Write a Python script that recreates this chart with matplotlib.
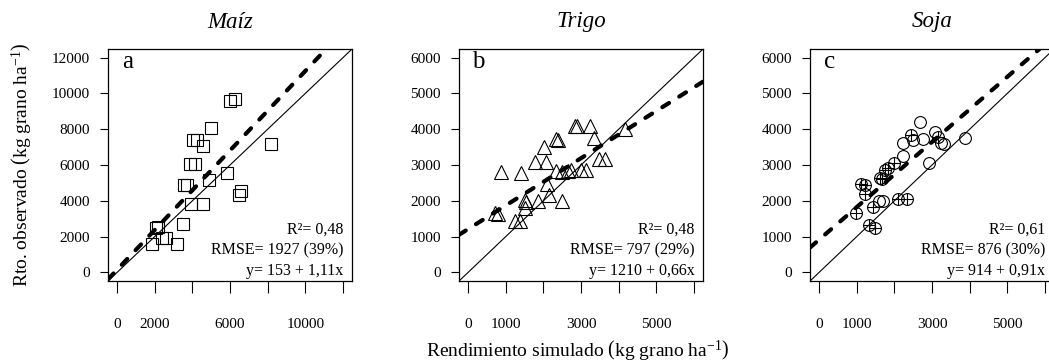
import numpy as np
import matplotlib
matplotlib.use("Agg")
import matplotlib.pyplot as plt

plt.rcParams['font.family'] = ['Liberation Serif', 'DejaVu Serif']
plt.rcParams['mathtext.fontset'] = 'custom'
plt.rcParams['mathtext.rm'] = 'Liberation Serif'
plt.rcParams['mathtext.it'] = 'Liberation Serif:italic'

# maiz (squares)
maiz_sim = [6016, 6280, 4997, 4047, 4258, 4538, 8163, 3869, 4132, 3552, 3730, 4908,
            5840, 6580, 6454, 3905, 4575, 3499, 2058, 2148, 1847, 2411, 2586, 3166]
maiz_obs = [9560, 9710, 8078, 7370, 7370, 7075, 7187, 6033, 6033, 4880, 4880, 5160,
            5532, 4546, 4323, 3805, 3805, 2690, 2507, 2563, 1577, 1911, 1911, 1577]

# trigo (triangles)
trigo_sim = [2830, 2900, 3245, 3333, 2346, 2390, 2011, 1790, 2082, 3474, 3642, 4171,
             873, 1394, 2346, 2487, 2663, 2734, 3008, 3140, 2098, 2143, 1508, 1534,
             1844, 2495, 1508, 714, 802, 1243, 1376]
trigo_obs = [4095, 4095, 4095, 3760, 3740, 3705, 3510, 3072, 3072, 3165, 3165, 4000,
             2813, 2786, 2840, 2810, 2830, 2850, 2850, 2850, 2460, 2162, 2022, 1977,
             2005, 2005, 1791, 1652, 1632, 1448, 1437]

# soja: plain circles and crossed circles
soja_sim = [2678, 2482, 2216, 2766, 3077, 3236, 3306, 3883, 2242, 2907, 1600, 1685]
soja_obs = [4206, 3694, 3602, 3722, 3928, 3602, 3574, 3760, 3248, 3045, 1995, 1995]
soja_sim_x = [2447, 3147, 2000, 1843, 1755, 1605, 1667, 1120, 1210, 1223, 976, 1436,
              2105, 2322, 1316, 1492]
soja_obs_x = [3833, 3788, 3060, 2905, 2858, 2650, 2620, 2460, 2450, 2181, 1652, 1838,
              2060, 2060, 1326, 1234]

titles = ['Maíz', 'Trigo', 'Soja']
letters = ['a', 'b', 'c']
intercepts = [153, 1210, 914]
slopes = [1.11, 0.66, 0.91]
stats = [['R²= 0,48', 'RMSE= 1927 (39%)', 'y= 153 + 1,11x'],
         ['R²= 0,48', 'RMSE= 797 (29%)', 'y= 1210 + 0,66x'],
         ['R²= 0,61', 'RMSE= 876 (30%)', 'y= 914 + 0,91x']]
ticks = [np.arange(0, 12001, 2000), np.arange(0, 6001, 1000), np.arange(0, 6001, 1000)]
xlabels = [['0', '2000', '', '6000', '', '10000', ''],
           ['0', '1000', '', '3000', '', '5000', ''],
           ['0', '1000', '', '3000', '', '5000', '']]
ymax = [12000, 6000, 6000]

fig = plt.figure(figsize=(10.49, 3.64), dpi=100)
lefts = [0.1030, 0.4376, 0.7722]
axs = []
for i in range(3):
    ax = fig.add_axes([lefts[i], 0.228, 0.2326, 0.6374])
    axs.append(ax)
    lim = (-0.04 * ymax[i], 1.04 * ymax[i])
    ax.set_xlim(lim)
    ax.set_ylim(lim)
    ax.axline((0, 0), slope=1, color='black', lw=0.8)
    ax.axline((0, intercepts[i]), slope=slopes[i], color='black', lw=3,
              dashes=(1.9, 2.9), dash_capstyle='round')
    ax.set_xticks(ticks[i])
    ax.set_xticklabels(xlabels[i])
    ax.set_yticks(ticks[i])
    ax.set_yticklabels([str(t) for t in ticks[i]])
    ax.tick_params(axis='x', length=8.5, width=0.8, pad=18, labelsize=11)
    ax.tick_params(axis='y', length=6, width=0.8, pad=7, labelsize=11)
    for s in ax.spines.values():
        s.set_linewidth(0.9)
    ax.text(0.08, 0.945, letters[i], transform=ax.transAxes, fontsize=18,
            ha='center', va='center')
    for j, yy in enumerate([0.22, 0.131, 0.045]):
        ax.text(0.965, yy, stats[i][j], transform=ax.transAxes, fontsize=11.5,
                ha='right', va='center')
    fig.text(lefts[i] + 0.2326 / 2, 1 - 22 / 364, titles[i], style='italic',
             fontsize=16.5, ha='center', va='center')

axs[0].plot(maiz_sim, maiz_obs, 's', mfc='none', mec='black', ms=8, mew=0.8)
axs[1].plot(trigo_sim, trigo_obs, '^', mfc='none', mec='black', ms=10, mew=0.8)
axs[2].plot(soja_sim, soja_obs, 'o', mfc='none', mec='black', ms=8.5, mew=0.8)
axs[2].plot(soja_sim_x, soja_obs_x, 'o', mfc='none', mec='black', ms=8.5, mew=0.8)
axs[2].plot(soja_sim_x, soja_obs_x, '+', color='black', ms=8.5, mew=0.8)

fig.text(22 / 1049, 1 - 165 / 364,
         r'Rto. observado $\left(\mathrm{kg\ grano\ ha}^{-1}\right)$',
         rotation=90, fontsize=14, ha='center', va='center')
fig.text(578 / 1049, 1 - 351 / 364,
         r'Rendimiento simulado $\left(\mathrm{kg\ grano\ ha}^{-1}\right)$',
         fontsize=14, ha='center', va='center')

fig.savefig('out.png', dpi=100)
